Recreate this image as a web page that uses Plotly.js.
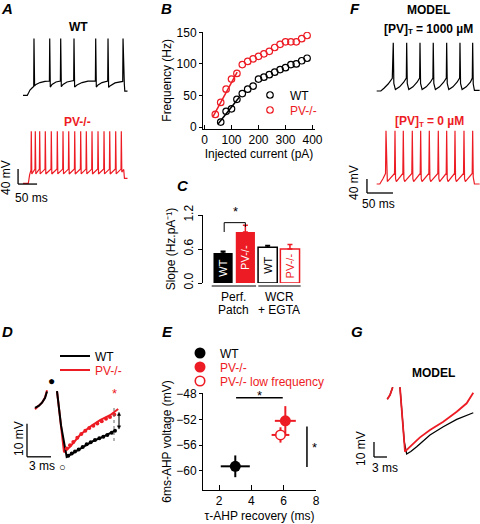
<!DOCTYPE html>
<html><head><meta charset="utf-8">
<script src="https://cdn.plot.ly/plotly-3.0.1.min.js"></script>
<style>html,body{margin:0;padding:0;background:#fff}#chart{width:480px;height:524px}</style>
</head><body><div id="chart"></div>
<script>
const W = 480, H = 524;
const FONT = 'Arial, "Liberation Sans", Helvetica, sans-serif';
const RED = '#ed1c24';
const BLACK = '#000000';

// ---------- Panel A: recorded spike trains (time ms, voltage mV)
const aWT_t = [0,11.3,14.5,18.4,23.7,28.2,28.9,30.5,34.2,44.7,57.9,69.5,70.3,71.8,76.3,86.8,98.4,99.2,100.8,105.3,115.8,133.4,134.2,135.8,142.1,155.3,171.1,190.5,191.3,192.9,197.4,207.9,222.9,223.7,225.3,228.9,242.1,262.4,263.2,264.7,266.6,267.9,275];
const aWT_v = [-70,-70,-64,-56,-50.5,-46.5,81.5,-45,-41,-36,-33,-32,81.5,-48,-41,-34.5,-32,81.5,-47,-41,-34.5,-30.5,81.5,-48,-42.5,-36,-32,-32,81.5,-48,-42.5,-36,-32,81.5,-49,-45,-37,-33,81.5,-40,-40,-59,-59];
const aPV_t = [0,14,17.5,21,21.8,23.1,31.6,32.4,33.7,43.1,43.9,45.2,57.9,58.7,60,73.7,74.5,75.8,89.5,90.3,91.6,104.5,105.3,106.6,119.5,120.3,121.6,135.3,136.1,137.4,151,151.8,153.1,165.8,166.6,167.9,180.8,181.6,182.9,196.6,197.4,198.7,212.4,213.2,214.5,227.4,228.2,229.5,243.1,243.9,245.2,257.9,258.7,260,265,267,275];
const aPV_v = [-70,-70,-47,-35,69,-45,-32,69,-45,-32,69,-45,-32,69,-45,-32,69,-45,-32,69,-45,-32,69,-45,-32,69,-45,-32,69,-45,-32,69,-45,-32,69,-45,-32,69,-45,-32,69,-45,-32,69,-45,-32,69,-45,-32,69,-45,-32,69,-40,-33,-57,-57];

// ---------- Panel B: f-I curves
const currentWT = [60,80,100,120,140,160,180,200,220,240,260,280,300,320,340,360,380];
const freqWT    = [8,25,29,44,53,60,65,76,79,83,87,91,94,99,100,105,109];
const currentPV = [40,60,80,100,120,140,160,180,200,220,240,260,280,300,320,340,360,380];
const freqPV    = [20,39,60,76,85,99,104,108,112,116,120,126,131,135,135,135,140,145];
const fitWT_x = [50,128], fitWT_y = [5,47];
const fitPV_x = [32,121], fitPV_y = [17,87];

// ---------- Panel C: slopes
const slopeGroups = ['Perf. WT','Perf. PV-/-','WCR WT','WCR PV-/-'];
const slopeLabels = ['WT','PV-/-','WT','PV-/-'];
const slopeMean   = [0.53,0.90,0.63,0.60];
const slopeErr    = [0.03,0.12,0.03,0.08];

// ---------- Panel D: AHP recordings (ms, mV)
const dWT_t = [0,0.5,0.875,1.25,1.5,null,2.75,3.25,3.96,4.79,6.04,7.29,8.54,10.0];
const dWT_v = [-45.2,-44.5,-43.6,-42.2,-40.2,null,-40.1,-50.4,-60,-58.8,-56.8,-55.2,-53.9,-52.1];
const dPV_t = [0,0.5,0.875,1.25,1.5,null,2.75,3.125,3.625,4.375,5.625,6.875,8.125,9.375,10.4];
const dPV_v = [-45.6,-44.6,-43.6,-42,-39.8,null,-40.1,-48.9,-58.6,-57.0,-53.4,-50.9,-48.9,-47.4,-45.5];
const dFitWT_t = [4.16,4.59,5.0,5.46,5.96,6.46,6.96,7.5,8.04,8.54,9.04,9.59,10.0];
const dFitWT_v = [-59.7,-59.0,-58.4,-57.8,-57.0,-56.2,-55.6,-54.9,-54.4,-53.9,-53.4,-52.7,-52.1];
const dFitPV_t = [3.96,4.375,4.79,5.29,5.79,6.29,6.79,7.29,7.79,8.34,8.875,9.375,9.91];
const dFitPV_v = [-57.5,-56.5,-55.5,-54.2,-53.1,-52.1,-51.3,-50.6,-49.9,-49.2,-48.5,-47.9,-47.2];

// ---------- Panel E: AHP summary
const ahpNames = ['WT','PV-/-','PV-/- low frequency'];
const tauAHP   = [3.0,6.1,5.8];
const tauErr   = [0.9,0.65,0.55];
const v6ms     = [-59.3,-52.2,-54.4];
const v6msErr  = [1.7,2.3,1.2];

// ---------- Panel F: model spike trains (ms, mV)
const fBL_t = [0,8,14,22,30,31.9,33,36,44,52,57,57.7,58.8,61.8,69.7,77.7,82.6,83.3,84.4,87.4,95.3,103.3,108.1,108.8,109.9,112.9,120.8,128.8,133.9,134.6,135.7,138.7,146.6,154.6,159.5,160.2,161.3,164.3,172.2,180.2,183.9,184.6,185.7,188,198];
const fBL_v = [-70,-70,-62,-50,-34,68,-48,-66,-58,-45,-33,68,-48,-66,-58,-45,-33,68,-48,-66,-58,-45,-33,68,-48,-66,-58,-45,-33,68,-48,-66,-58,-45,-33,68,-48,-66,-58,-45,-33,68,-50,-68,-68];
const fRD_t = [0,6,12,17,17.9,19,20.5,34.3,35.2,36.3,37.8,50.3,51.2,52.3,53.8,67.6,68.5,69.6,71.1,83.7,84.6,85.7,87.2,100.3,101.2,102.3,103.8,117.6,118.5,119.6,121.1,133.7,134.6,135.7,137.2,149.7,150.6,151.7,153.2,167,167.9,169,170.5,183.7,184.6,185.7,188,198];
const fRD_v = [-70,-70,-55,-40,82,-55,-63,-40,82,-55,-63,-40,82,-55,-63,-40,82,-55,-63,-40,82,-55,-63,-40,82,-55,-63,-40,82,-55,-63,-40,82,-55,-63,-40,82,-55,-63,-40,82,-55,-63,-40,82,-50,-70,-70];

// ---------- Panel G: model AHP (ms, mV)
const gBL_t = [0.07,0.69,1.32,null,3.0,3.5,4.0,4.55,5.5,6.86,9.93,13.0,16.1,19.93];
const gBL_v = [-23.5,-20.7,-15.5,null,-15.5,-33,-52,-60,-58.3,-55.1,-47.3,-41.8,-36.9,-32.5];
const gRD_t = [0.07,0.69,1.32,null,3.0,3.46,3.9,4.16,4.92,6.07,7.62,9.93,13.0,16.1,18.4,19.93];
const gRD_v = [-23.5,-20.7,-15.5,null,-15.5,-30.7,-50,-58.5,-56.2,-52.9,-48.9,-44,-38.5,-31.8,-26.2,-19.1];

// ---------- helpers
const dx = (l, r) => [l / W, r / W];
const dy = (t, b) => [1 - b / H, 1 - t / H];
const bare = {showline:false, showticklabels:false, ticks:'', showgrid:false, zeroline:false, fixedrange:true};
const hidden = (domain, range, anchor) => Object.assign({domain, range, anchor}, bare);
const line = (xs, ys, color, width, xa, ya, extra) => Object.assign({type:'scatter', mode:'lines', x:xs, y:ys, line:{color, width}, xaxis:xa, yaxis:ya, showlegend:false, hoverinfo:'skip'}, extra || {});
const fnt = (size, color, weight, style) => ({family:FONT, size, color, weight:weight || 'normal', style:style || 'normal'});
const ann = (text, xp, yp, opt) => Object.assign({text, x:xp / W, y:1 - yp / H, xref:'paper', yref:'paper', showarrow:false, xanchor:'center', yanchor:'middle', font:fnt(12, BLACK)}, opt || {});
const letter = (text, xp, yp) => ann(text, xp, yp, {font:fnt(15, BLACK, 'bold', 'italic')});
const seg = (xref, yref, x0, y0, x1, y1, extra) => Object.assign({type:'line', xref, yref, x0, y0, x1, y1, line:{color:BLACK, width:1.3}}, extra || {});
const tri = (xref, yref, path) => ({type:'path', xref, yref, path, fillcolor:BLACK, line:{color:BLACK, width:0.5}});
const leg = (xp, yp, color) => ({x:xp / W, y:1 - yp / H, xanchor:'left', yanchor:'middle', bgcolor:'rgba(0,0,0,0)', borderwidth:0, font:fnt(12, color), itemclick:false, itemdoubleclick:false});
// "[PV]" + subscript "T" + rest, as three left-anchored labels starting at xp
const pvLabel = (rest, xp, yp, color) => [
  ann('[PV]', xp, yp, {xanchor:'left', font:fnt(12, color, 'bold')}),
  ann('T', xp + 24, yp + 3, {xanchor:'left', font:fnt(8, color, 'bold')}),
  ann(rest, xp + 32, yp, {xanchor:'left', font:fnt(12, color, 'bold')})
];

const traces = [];
// A
traces.push(line(aWT_t, aWT_v, BLACK, 1.2, 'x4', 'y4'));
traces.push(line(aPV_t, aPV_v, RED, 1.2, 'x5', 'y5'));
// B
traces.push(line(fitWT_x, fitWT_y, BLACK, 1.5, 'x', 'y'));
traces.push(line(fitPV_x, fitPV_y, RED, 1.5, 'x', 'y'));
traces.push({type:'scatter', mode:'markers', x:currentWT, y:freqWT, name:'WT', legend:'legend', xaxis:'x', yaxis:'y', marker:{symbol:'circle-open', size:6.5, color:BLACK, line:{width:1.2}}, hoverinfo:'skip'});
traces.push({type:'scatter', mode:'markers', x:currentPV, y:freqPV, name:'PV-/-', legend:'legend2', xaxis:'x', yaxis:'y', marker:{symbol:'circle-open', size:6.5, color:RED, line:{width:1.2}}, hoverinfo:'skip'});
// C
const barFill = [BLACK, RED, '#ffffff', '#ffffff'];
const barEdge = [BLACK, RED, BLACK, RED];
const barTxt  = ['#ffffff', '#ffffff', BLACK, RED];
slopeGroups.forEach((g, i) => traces.push({
  type:'bar', x:[g], y:[slopeMean[i]], width:[0.86], text:[slopeLabels[i]],
  textposition:'inside', insidetextanchor:'middle', textangle:-90, constraintext:'none',
  textfont:fnt(11, barTxt[i]),
  marker:{color:barFill[i], line:{color:barEdge[i], width:i < 2 ? 0 : 1.5}},
  error_y:{type:'data', symmetric:false, array:[slopeErr[i]], arrayminus:[0], color:barEdge[i], thickness:1.5, width:2.5},
  xaxis:'x2', yaxis:'y2', showlegend:false, hoverinfo:'skip'
}));
// D
traces.push(line(dPV_t, dPV_v, RED, 2, 'x8', 'y8', {name:'PV-/-', showlegend:true, legend:'legend7'}));
traces.push(line(dWT_t, dWT_v, BLACK, 2, 'x8', 'y8', {name:'WT', showlegend:true, legend:'legend6'}));
traces.push({type:'scatter', mode:'markers', x:dFitPV_t, y:dFitPV_v, marker:{size:4, color:RED}, xaxis:'x8', yaxis:'y8', showlegend:false, hoverinfo:'skip'});
traces.push({type:'scatter', mode:'markers', x:dFitWT_t, y:dFitWT_v, marker:{size:4, color:BLACK}, xaxis:'x8', yaxis:'y8', showlegend:false, hoverinfo:'skip'});
// E
const ahpFill = [BLACK, RED, '#ffffff'];
const ahpEdge = [BLACK, RED, RED];
ahpNames.forEach((n, i) => traces.push({
  type:'scatter', mode:'markers', x:[tauAHP[i]], y:[v6ms[i]], name:n, legend:'legend' + (3 + i),
  error_x:{type:'data', array:[tauErr[i]], color:ahpEdge[i], thickness:2, width:0},
  error_y:{type:'data', array:[v6msErr[i]], color:ahpEdge[i], thickness:2, width:0},
  marker:{size:i < 2 ? 11 : 9.5, color:ahpFill[i], line:{color:ahpEdge[i], width:i < 2 ? 0 : 1.6}},
  xaxis:'x3', yaxis:'y3', hoverinfo:'skip'
}));
// F
traces.push(line(fBL_t, fBL_v, BLACK, 1.2, 'x6', 'y6'));
traces.push(line(fRD_t, fRD_v, RED, 1.2, 'x7', 'y7'));
// G
traces.push(line(gBL_t, gBL_v, BLACK, 1.3, 'x9', 'y9'));
traces.push(line(gRD_t, gRD_v, RED, 1.8, 'x9', 'y9'));

const axFont = fnt(12, BLACK);
const visAx = (extra) => Object.assign({showline:true, linecolor:BLACK, linewidth:1, showgrid:false, zeroline:false, tickcolor:BLACK, tickwidth:1, tickfont:axFont, fixedrange:true}, extra);

const layout = {
  width:W, height:H, margin:{l:0, r:0, t:0, b:0}, paper_bgcolor:'#ffffff', plot_bgcolor:'rgba(0,0,0,0)',
  font:fnt(12, BLACK), barmode:'overlay', showlegend:true, hovermode:false,
  // B
  xaxis: visAx({domain:dx(203,315), range:[-5.6,409.3], anchor:'y', tickvals:[0,100,200,300,400], ticks:'inside', ticklen:4,
    title:{text:'Injected current (pA)', font:axFont, standoff:3}}),
  yaxis: visAx({domain:dy(31.7,129), range:[-3,151], anchor:'x', tickvals:[0,50,100,150], ticks:'outside', ticklen:3,
    title:{text:'Frequency (Hz)', font:axFont, standoff:2}}),
  // C
  xaxis2: Object.assign({domain:dx(203,302), type:'category', range:[-0.9,3.54], anchor:'y2'}, bare),
  yaxis2: visAx({domain:dy(215,283), range:[0,1.2], anchor:'x2', tickvals:[0,0.6,1.2], tickformat:'.1f', tickangle:-90, ticks:'outside', ticklen:4,
    title:{text:'Slope (Hz.pA\u207b\u00b9)', font:axFont, standoff:4}}),
  // E
  xaxis3: visAx({domain:dx(203,316), range:[1,8], anchor:'y3', tickvals:[2,4,6,8], ticks:'inside', ticklen:5,
    title:{text:'\u03c4-AHP recovery (ms)', font:axFont, standoff:4}}),
  yaxis3: visAx({domain:dy(393,490), range:[-63,-47.85], anchor:'x3', tickvals:[-60,-56,-52,-48], ticks:'outside', ticklen:3,
    title:{text:'6ms-AHP voltage (mV)', font:axFont, standoff:2}}),
  // trace panels
  xaxis4: hidden(dx(15,135), [-21.05,294.7], 'y4'),
  yaxis4: hidden(dy(30,100), [-82.5,104.1], 'x4'),
  xaxis5: hidden(dx(15,135), [-21.05,294.7], 'y5'),
  yaxis5: hidden(dy(122,200), [-114.5,93.5], 'x5'),
  xaxis6: hidden(dx(355,480), [-41.7,198.7], 'y6'),
  yaxis6: hidden(dy(35,100), [-95.7,90], 'x6'),
  xaxis7: hidden(dx(355,480), [-41.7,198.7], 'y7'),
  yaxis7: hidden(dy(122,200), [-115.7,107.1], 'x7'),
  xaxis8: hidden(dx(20,130), [-1.875,11.875], 'y8'),
  yaxis8: hidden(dy(375,470), [-64.0,-35.2], 'x8'),
  xaxis9: hidden(dx(360,480), [-6.23,21.48], 'y9'),
  yaxis9: hidden(dy(375,470), [-70.67,-7.33], 'x9'),
  // legends
  legend:  leg(250, 95, BLACK),
  legend2: leg(250, 110, RED),
  legend3: leg(180, 353, BLACK),
  legend4: leg(180, 367, RED),
  legend5: leg(180, 381, RED),
  legend6: leg(55, 356, BLACK),
  legend7: leg(55, 370, RED),
  shapes: [
    // A scale bar: 50 ms, 40 mV
    seg('x5','y5', -13, -72, -13, -32), seg('x5','y5', -13, -72, 37, -72),
    // F scale bar: 50 ms, 40 mV
    seg('x7','y7', -18.7, -95.7, -18.7, -55.7), seg('x7','y7', -18.7, -95.7, 31.3, -95.7),
    // D scale bar: 3 ms, 10 mV
    seg('x8','y8', -1, -60, -1, -50), seg('x8','y8', -1, -60, 2, -60),
    // G scale bar: 3 ms, 10 mV
    seg('x9','y9', -3, -62, -3, -52), seg('x9','y9', -3, -62, 0, -62),
    // D 6 ms marker and double arrow
    seg('x8','y8', 9.875, -45.2, 9.875, -55.5, {line:{color:'#666', width:1, dash:'dot'}}),
    seg('x8','y8', 10.5, -47.3, 10.5, -50.8, {line:{color:BLACK, width:1.1}}),
    tri('x8','y8', 'M10.3,-47.5 L10.5,-46.5 L10.7,-47.5 Z'),
    tri('x8','y8', 'M10.3,-50.6 L10.5,-51.6 L10.7,-50.6 Z'),
    // C group lines and significance bracket
    seg('x2','paper', -0.51, 1 - 286 / H, 1.48, 1 - 286 / H, {line:{color:BLACK, width:1.2}}),
    seg('x2','paper', 1.58, 1 - 286 / H, 3.48, 1 - 286 / H, {line:{color:BLACK, width:1.2}}),
    seg('x2','y2', 0.05, 0.9, 0.05, 1.065, {line:{color:BLACK, width:1}}),
    seg('x2','y2', 0.05, 1.065, 1.0, 1.065, {line:{color:BLACK, width:1}}),
    seg('x2','y2', 1.0, 1.065, 1.0, 0.99, {line:{color:BLACK, width:1}}),
    // E significance
    seg('x3','y3', 3.05, -48.6, 5.94, -48.6, {line:{color:BLACK, width:1.5}}),
    seg('x3','y3', 7.44, -53.1, 7.44, -59.4, {line:{color:BLACK, width:1.5}})
  ],
  annotations: [
    letter('A', 7, 8), letter('B', 166, 8), letter('C', 183, 185), letter('D', 7, 332),
    letter('E', 167, 332), letter('F', 355, 8), letter('G', 357, 332),
    // A
    ann('WT', 78, 27, {font:fnt(12, BLACK, 'bold')}),
    ann('PV-/-', 77, 122, {font:fnt(12, RED, 'bold')}),
    ann('40 mV', 6, 178, {textangle:-90}),
    ann('50 ms', 31, 198),
    // C
    ann('Perf.', 233, 297), ann('Patch', 233, 310),
    ann('WCR', 279, 297), ann('+ EGTA', 279, 310),
    ann('*', 235, 211, {font:fnt(13, BLACK)}),
    // D
    ann('\u25cf', 51, 381, {font:fnt(12, BLACK)}),
    ann('\u25cb', 62.5, 467, {font:fnt(11, BLACK)}),
    ann('*', 114.5, 393, {font:fnt(13, RED)}),
    ann('10 mV', 19, 439, {textangle:-90}),
    ann('3 ms', 41.5, 466),
    // E
    ann('*', 259, 395, {font:fnt(13, BLACK)}),
    ann('*', 314, 447, {font:fnt(13, BLACK)}),
    // F
    ann('MODEL', 428.5, 10, {font:fnt(12, BLACK, 'bold')}),
    ...pvLabel('= 1000 \u00b5M', 382, 29, BLACK),
    ...pvLabel('= 0 \u00b5M', 393, 121, RED),
    ann('40 mV', 354, 183, {textangle:-90}),
    ann('50 ms', 378, 204),
    // G
    ann('MODEL', 433, 373, {font:fnt(12, BLACK, 'bold')}),
    ann('10 mV', 361, 449, {textangle:-90}),
    ann('3 ms', 385, 468)
  ]
};

Plotly.newPlot('chart', traces, layout, {staticPlot:true, displayModeBar:false});
</script>
</body></html>
